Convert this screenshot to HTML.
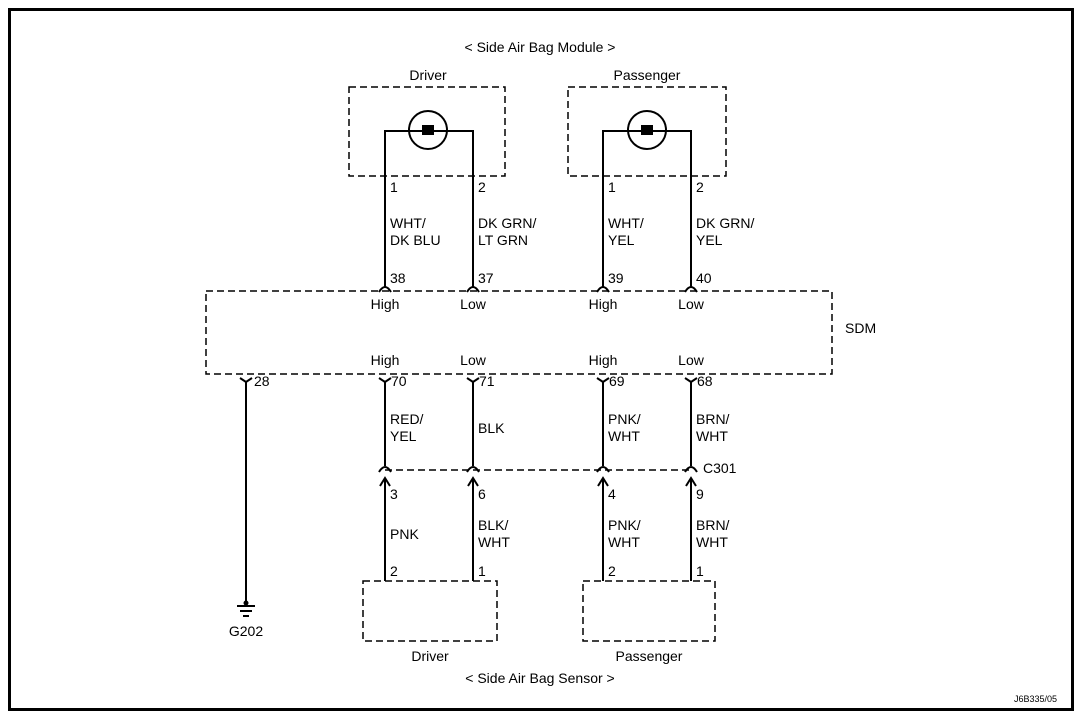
<!DOCTYPE html>
<html><head><meta charset="utf-8"><style>
html,body{margin:0;padding:0;background:#fff;width:1088px;height:728px;overflow:hidden}
text{font-family:"Liberation Sans",sans-serif;font-size:14px;fill:#000}
</style></head><body>
<svg width="1088" height="728" viewBox="0 0 1088 728" xmlns="http://www.w3.org/2000/svg">
<rect x="9.5" y="9.5" width="1063" height="700" fill="none" stroke="#000" stroke-width="3"/>
<g fill="none" stroke="#000" stroke-width="1.5" stroke-dasharray="7,4">
<rect x="349" y="87" width="156" height="89"/>
<rect x="568" y="87" width="158" height="89"/>
<rect x="206" y="291" width="626" height="83"/>
<rect x="363" y="581" width="134" height="60"/>
<rect x="583" y="581" width="132" height="60"/>
<line x1="385" y1="470" x2="691" y2="470"/>
</g>
<g fill="none" stroke="#000" stroke-width="2">
<circle cx="428" cy="130" r="19"/><circle cx="647" cy="130" r="19"/>
<path d="M385 287 V131 H473 V287"/>
<path d="M603 287 V131 H691 V287"/>
<path d="M379 292 Q385 282 391 292 M467 292 Q473 282 479 292 M597 292 Q603 282 609 292 M685 292 Q691 282 697 292"/>
<path d="M240 378 L246 382 L252 378 M246 382 V604"/>
<path d="M379 378 L385 382 L391 378 M385 382 V466 M379 472 Q385 462 391 472"/>
<path d="M467 378 L473 382 L479 378 M473 382 V466 M467 472 Q473 462 479 472"/>
<path d="M597 378 L603 382 L609 378 M603 382 V466 M597 472 Q603 462 609 472"/>
<path d="M685 378 L691 382 L697 378 M691 382 V466 M685 472 Q691 462 697 472"/>
<path d="M385 480 V581 M473 480 V581 M603 480 V581 M691 480 V581"/>
<path d="M380 486 L385 478 L390 486 M468 486 L473 478 L478 486 M598 486 L603 478 L608 486 M686 486 L691 478 L696 486"/>
<path d="M237 606 H255 M240 611 H252 M243 616 H249"/>
</g>
<rect x="422" y="125" width="12" height="10" fill="#000"/>
<rect x="641" y="125" width="12" height="10" fill="#000"/>
<circle cx="246" cy="603" r="2.5" fill="#000"/>
<text x="540" y="52" text-anchor="middle">&lt; Side Air Bag Module &gt;</text>
<text x="428" y="80" text-anchor="middle">Driver</text>
<text x="647" y="80" text-anchor="middle">Passenger</text>
<text x="390" y="192">1</text><text x="478" y="192">2</text>
<text x="608" y="192">1</text><text x="696" y="192">2</text>
<text x="390" y="228">WHT/</text><text x="390" y="245">DK BLU</text>
<text x="478" y="228">DK GRN/</text><text x="478" y="245">LT GRN</text>
<text x="608" y="228">WHT/</text><text x="608" y="245">YEL</text>
<text x="696" y="228">DK GRN/</text><text x="696" y="245">YEL</text>
<text x="390" y="283">38</text><text x="478" y="283">37</text>
<text x="608" y="283">39</text><text x="696" y="283">40</text>
<text x="385" y="309" text-anchor="middle">High</text><text x="473" y="309" text-anchor="middle">Low</text>
<text x="603" y="309" text-anchor="middle">High</text><text x="691" y="309" text-anchor="middle">Low</text>
<text x="845" y="333">SDM</text>
<text x="385" y="365" text-anchor="middle">High</text><text x="473" y="365" text-anchor="middle">Low</text>
<text x="603" y="365" text-anchor="middle">High</text><text x="691" y="365" text-anchor="middle">Low</text>
<text x="254" y="386">28</text><text x="391" y="386">70</text><text x="479" y="386">71</text>
<text x="609" y="386">69</text><text x="697" y="386">68</text>
<text x="390" y="424">RED/</text><text x="390" y="441">YEL</text>
<text x="478" y="433">BLK</text>
<text x="608" y="424">PNK/</text><text x="608" y="441">WHT</text>
<text x="696" y="424">BRN/</text><text x="696" y="441">WHT</text>
<text x="703" y="473">C301</text>
<text x="390" y="499">3</text><text x="478" y="499">6</text>
<text x="608" y="499">4</text><text x="696" y="499">9</text>
<text x="390" y="539">PNK</text>
<text x="478" y="530">BLK/</text><text x="478" y="547">WHT</text>
<text x="608" y="530">PNK/</text><text x="608" y="547">WHT</text>
<text x="696" y="530">BRN/</text><text x="696" y="547">WHT</text>
<text x="390" y="576">2</text><text x="478" y="576">1</text>
<text x="608" y="576">2</text><text x="696" y="576">1</text>
<text x="246" y="636" text-anchor="middle">G202</text>
<text x="430" y="661" text-anchor="middle">Driver</text>
<text x="649" y="661" text-anchor="middle">Passenger</text>
<text x="540" y="683" text-anchor="middle">&lt; Side Air Bag Sensor &gt;</text>
<text x="1057" y="702" text-anchor="end" style="font-size:9px">J6B335/05</text>
</svg>
</body></html>
